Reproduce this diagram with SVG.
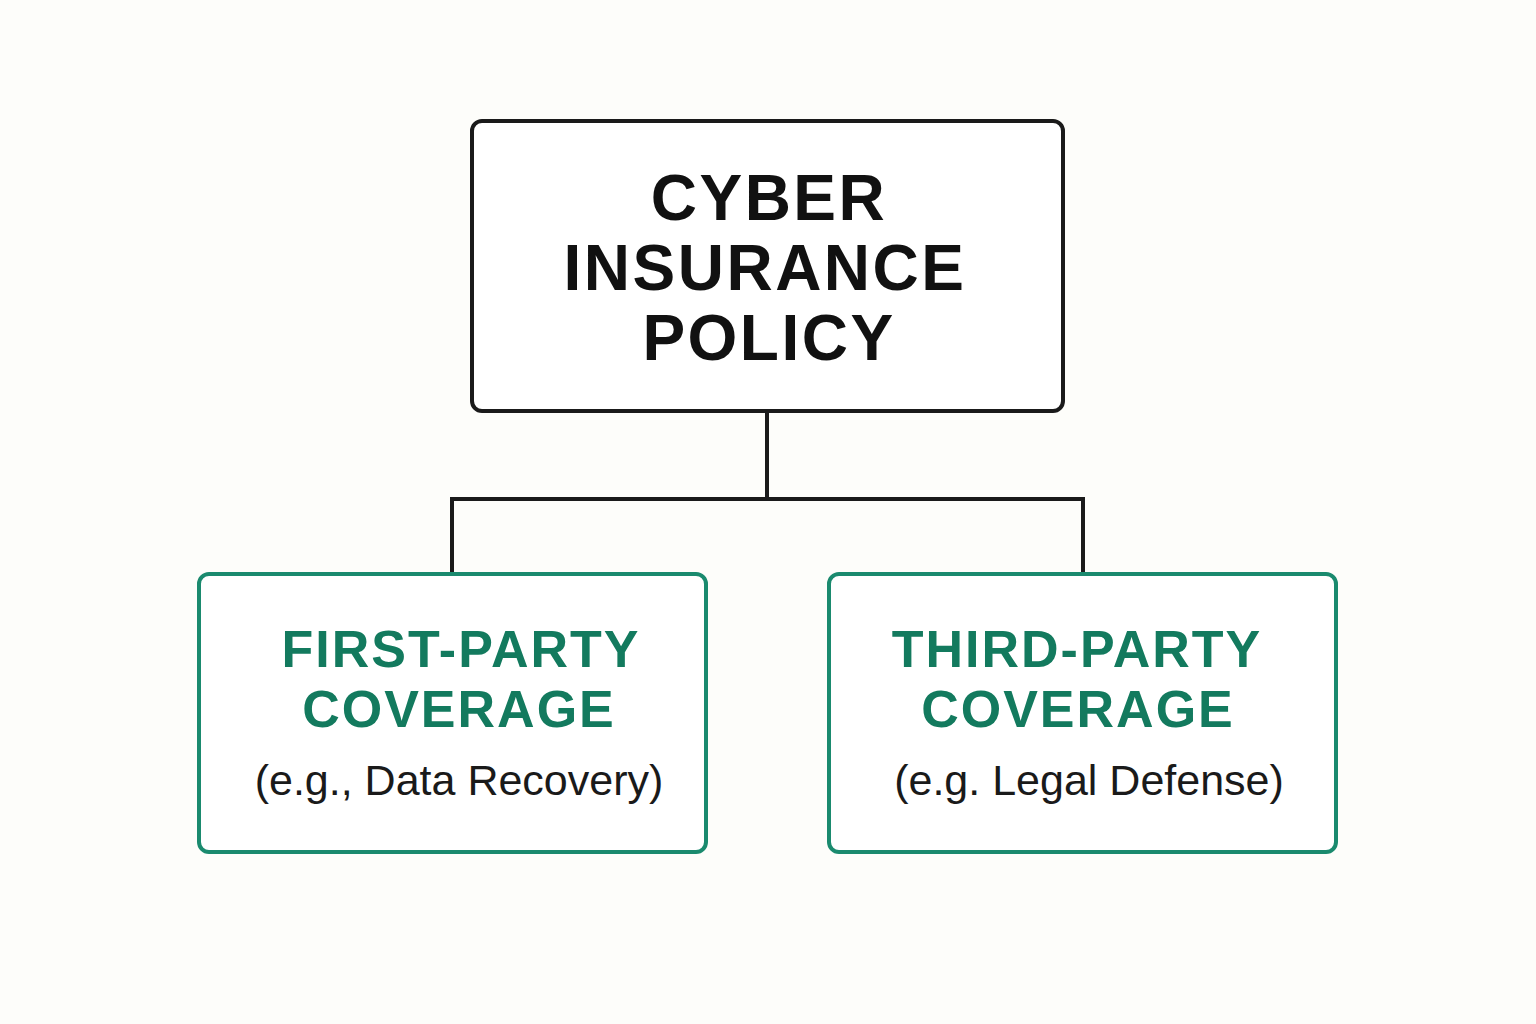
<svg xmlns="http://www.w3.org/2000/svg" width="1536" height="1024" viewBox="0 0 1536 1024">
<style>
.t{font-family:"Liberation Sans",Arial,sans-serif;font-weight:bold;text-anchor:middle}
.k{fill:#111;font-size:64px;letter-spacing:2.5px}
.g{fill:#137a5e;font-size:52px;letter-spacing:2px}
.s{font-family:"Liberation Sans",Arial,sans-serif;font-size:43px;fill:#1a1a1a;text-anchor:middle}
.box{fill:#fff;stroke:#1a8a6e;stroke-width:4}
</style>
<rect width="1536" height="1024" fill="#fdfdfa"/>
<g id="connectors" fill="none" stroke="#1a1a1a" stroke-width="4">
<path d="M767 411V499M452 573V499H1083V573"/>
</g>
<g id="root">
<rect x="472" y="121" width="591" height="290" rx="10" fill="#fff" stroke="#1a1a1a" stroke-width="4"/>
<text class="t k" x="769" y="220">CYBER</text>
<text class="t k" x="765" y="290">INSURANCE</text>
<text class="t k" x="769" y="360">POLICY</text>
</g>
<g id="first">
<rect class="box" x="199" y="574" width="507" height="278" rx="10"/>
<text class="t g" x="461" y="667">FIRST-PARTY</text>
<text class="t g" x="459" y="727">COVERAGE</text>
<text class="s" x="459" y="795">(e.g., Data Recovery)</text>
</g>
<g id="third">
<rect class="box" x="829" y="574" width="507" height="278" rx="10"/>
<text class="t g" x="1077" y="667">THIRD-PARTY</text>
<text class="t g" x="1078" y="727">COVERAGE</text>
<text class="s" x="1089" y="795">(e.g. Legal Defense)</text>
</g>
</svg>
